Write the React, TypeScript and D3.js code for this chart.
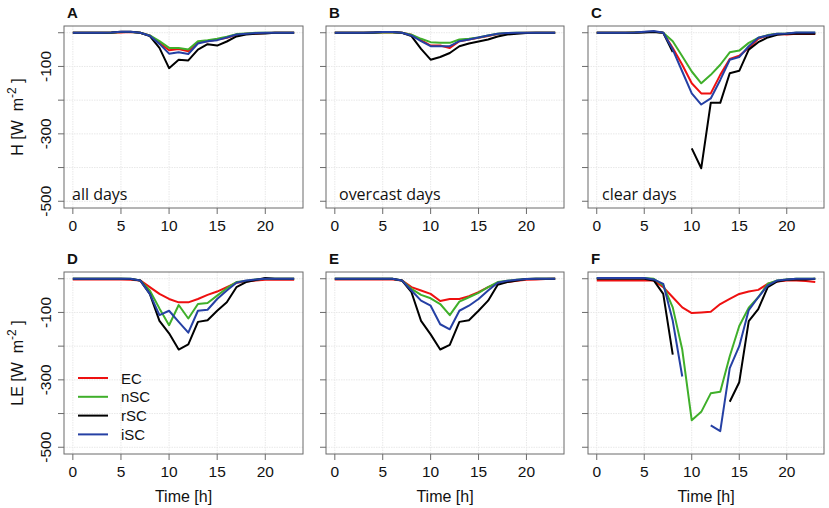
import React from 'react';
import * as d3 from 'd3';

// hour of day (x)
const hours = [0, 1, 2, 3, 4, 5, 6, 7, 8, 9, 10, 11, 12, 13, 14, 15, 16, 17, 18, 19, 20, 21, 22, 23];

const seriesNames = ['EC', 'nSC', 'rSC', 'iSC'];
const seriesColors = ['#ee1010', '#3faf2a', '#000000', '#2540a4'];

const xTicks = [0, 5, 10, 15, 20];
const yTicks = [0, -100, -200, -300, -400, -500];
const yTickLabels = ['-100', '-300', '-500'];

const N = NaN; // gaps in the record

// H, sensible heat flux
const A_EC = [0, 0, 0, 0, 0, 1, 2, 0, -8, -30, -52, -48, -55, -28, -25, -20, -15, -6, -3, -2, -1, 0, 0, 0];
const A_nSC = [0, 0, 0, 0, 0, 2, 2, 0, -8, -25, -45, -45, -50, -25, -22, -18, -12, -4, -2, 0, 0, 0, 0, 0];
const A_rSC = [0, 0, 0, 0, 1, 3, 3, 0, -10, -45, -105, -80, -82, -50, -34, -38, -26, -11, -5, -3, -2, 0, 0, 0];
const A_iSC = [0, 0, 0, 0, 1, 3, 3, 0, -9, -33, -62, -58, -63, -32, -25, -22, -14, -5, -3, -1, 0, 0, 0, 0];

const B_EC = [0, 0, 0, 0, 0, 1, 1, 0, -6, -22, -38, -38, -45, -25, -20, -15, -10, -4, -2, -1, 0, 0, 0, 0];
const B_nSC = [0, 0, 0, 0, 0, 1, 1, 0, -6, -18, -28, -30, -30, -20, -18, -14, -8, -3, -1, 0, 0, 0, 0, 0];
const B_rSC = [0, 0, 0, 0, 1, 2, 2, 0, -10, -48, -80, -72, -60, -40, -32, -26, -20, -11, -5, -3, -1, 0, 0, 0];
const B_iSC = [0, 0, 0, 0, 1, 2, 2, 0, -8, -25, -40, -40, -40, -25, -20, -14, -8, -3, -1, 0, 0, 0, 0, 0];

const C_EC = [0, 0, 0, 0, 1, 2, 3, 0, -45, -95, -150, -180, -180, -125, -78, -68, -45, -18, -8, -4, -5, -3, -4, -4];
const C_nSC = [0, 0, 0, 0, 1, 2, 3, 0, -25, -70, -115, -150, -125, -95, -58, -53, -30, -15, -7, -3, -2, 0, 0, 0];
const C_rSC = [0, 0, 0, 0, 0, 1, 2, 0, -57, N, -343, -402, -208, -208, -120, -113, -50, -28, -14, -6, -3, -2, -3, -3];
const C_iSC = [0, 0, 0, 0, 1, 3, 5, 0, -50, -115, -180, -213, -195, -140, -80, -72, -40, -15, -8, -3, -2, 1, 1, 1];

// LE, latent heat flux
const D_EC = [-2, -2, -2, -2, -2, -2, -3, -5, -25, -45, -60, -70, -70, -60, -48, -38, -25, -12, -8, -5, -3, -3, -3, -3];
const D_nSC = [0, 0, 0, 0, 0, 0, 0, -5, -35, -88, -138, -78, -118, -75, -72, -50, -28, -10, -7, -2, 0, 0, 0, 0];
const D_rSC = [0, 0, 0, 0, 0, 0, -1, -5, -45, -125, -162, -210, -195, -128, -123, -95, -70, -25, -10, -4, 2, 0, 0, 0];
const D_iSC = [0, 0, 0, 0, 0, 0, 0, -5, -45, -108, -95, -128, -160, -95, -92, -60, -35, -12, -5, -2, 0, 0, 0, 0];

const E_EC = [-2, -2, -2, -2, -2, -2, -2, -5, -25, -35, -45, -66, -60, -60, -52, -40, -25, -13, -10, -6, -3, -2, -1, 0];
const E_nSC = [0, 0, 0, 0, 0, 0, 0, -5, -30, -48, -58, -75, -108, -68, -55, -42, -25, -10, -6, -3, -1, 0, 0, 0];
const E_rSC = [0, 0, 0, 0, 0, 0, 0, -5, -40, -125, -165, -210, -196, -128, -123, -95, -65, -18, -10, -5, -1, 0, 0, 0];
const E_iSC = [0, 0, 0, 0, 0, 0, 0, -5, -35, -65, -80, -135, -150, -95, -80, -60, -35, -12, -6, -3, -1, 0, 0, 0];

const F_EC = [-5, -5, -5, -5, -5, -5, -5, -25, -55, -85, -102, -100, -98, -75, -60, -45, -38, -33, -15, -8, -5, -5, -7, -10];
const F_nSC = [2, 2, 2, 2, 2, 2, 0, -20, -85, -210, -420, -395, -340, -335, -230, -140, -86, -55, -15, -5, -2, 0, 0, 0];
const F_rSC = [0, 0, 0, 0, 0, 0, -5, -45, -225, N, N, N, N, N, -365, -307, -126, -90, -25, -8, -3, -2, -2, 0];
const F_iSC = [2, 2, 2, 2, 2, 2, -2, -15, -125, -290, N, N, -435, -452, -265, -200, -93, -55, -20, -5, -2, 0, 0, 0];

const panelLetters = ['A', 'B', 'C', 'D', 'E', 'F'];
const panelNotes = ['all days', 'overcast days', 'clear days', '', '', ''];
const panelSeries = [
  [A_EC, A_nSC, A_rSC, A_iSC],
  [B_EC, B_nSC, B_rSC, B_iSC],
  [C_EC, C_nSC, C_rSC, C_iSC],
  [D_EC, D_nSC, D_rSC, D_iSC],
  [E_EC, E_nSC, E_rSC, E_iSC],
  [F_EC, F_nSC, F_rSC, F_iSC],
];

const W = 829;
const H = 508;
const colLeft = [64, 326, 588];
const colRight = [303, 564, 824];
const rowTop = [26, 272];
const rowBottom = [208, 454];
const noteX = [72, 339, 602];

const axisFont = '"Liberation Sans", Arial, sans-serif';
const boxColor = '#6b6b6b';

interface PanelProps {
  idx: number;
}

const Panel: React.FC<PanelProps> = ({ idx }) => {
  const col = idx % 3;
  const row = Math.floor(idx / 3);
  const left = colLeft[col];
  const right = colRight[col];
  const top = rowTop[row];
  const bottom = rowBottom[row];

  const x = d3.scaleLinear().domain([-0.92, 23.92]).range([left, right]);
  const y = d3.scaleLinear().domain([-520, 20]).range([bottom, top]);

  const line = d3.line<number>()
    .defined(d => !Number.isNaN(d))
    .x((_, i) => x(hours[i]))
    .y(d => y(d));

  return (
    <g>
      {/* grid */}
      {xTicks.map(t => (
        <line key={'gx' + t} x1={x(t)} x2={x(t)} y1={top} y2={bottom} stroke="#e8e8e8" strokeWidth={1} strokeDasharray="1.5,1" />
      ))}
      {yTicks.map(t => (
        <line key={'gy' + t} x1={left} x2={right} y1={y(t)} y2={y(t)} stroke="#e8e8e8" strokeWidth={1} strokeDasharray="1.5,1" />
      ))}

      {panelSeries[idx].map((s, k) => (
        <path key={seriesNames[k]} d={line(s) ?? ''} fill="none" stroke={seriesColors[k]} strokeWidth={2} strokeLinejoin="round" />
      ))}

      <rect x={left} y={top} width={right - left} height={bottom - top} fill="none" stroke={boxColor} strokeWidth={1} />

      {/* x axis */}
      {xTicks.map(t => (
        <g key={'xt' + t}>
          <line x1={x(t)} x2={x(t)} y1={bottom} y2={bottom + 6} stroke={boxColor} />
          <text x={x(t)} y={bottom + 23} textAnchor="middle" fontSize={15.5} fontFamily={axisFont} fill="#111">{t}</text>
        </g>
      ))}
      {/* y axis */}
      {yTicks.map(t => (
        <line key={'yt' + t} x1={left - 6} x2={left} y1={y(t)} y2={y(t)} stroke={boxColor} />
      ))}
      {col === 0 && yTicks.filter(t => yTickLabels.includes(String(t))).map(t => (
        <text key={'yl' + t} transform={`translate(${left - 13},${y(t)}) rotate(-90)`} textAnchor="middle" fontSize={15.5} fontFamily={axisFont} fill="#111">{String(t)}</text>
      ))}

      <text x={left + 3} y={top - 8} fontSize={15} fontWeight="bold" fontFamily={axisFont} fill="#111">{panelLetters[idx]}</text>

      {panelNotes[idx] && (
        <text x={noteX[col]} y={bottom - 8} fontSize={16} fontFamily='"Open Sans", sans-serif' fill="#111">{panelNotes[idx]}</text>
      )}

      {row === 1 && (
        <text x={(left + right) / 2} y={502} textAnchor="middle" fontSize={16} fontFamily={axisFont} fill="#111">Time [h]</text>
      )}
    </g>
  );
};

const YLabel: React.FC<{ name: string; cy: number }> = ({ name, cy }) => (
  <text transform={`translate(23,${cy}) rotate(-90)`} textAnchor="middle" fontSize={16} fontFamily={axisFont} fill="#111" xmlSpace="preserve">
    {name} [W  m
    <tspan fontSize={12} dy={-7}>-2</tspan>
    <tspan dy={7}> ]</tspan>
  </text>
);

const Legend: React.FC = () => {
  const x0 = 78;
  const y0 = 378;
  const step = 18.8;
  return (
    <g>
      {seriesNames.map((n, i) => (
        <g key={n}>
          <line x1={x0} x2={x0 + 30} y1={y0 + i * step} y2={y0 + i * step} stroke={seriesColors[i]} strokeWidth={2} />
          <text x={x0 + 43} y={y0 + i * step + 5.5} fontSize={15} fontFamily={axisFont} fill="#111">{n}</text>
        </g>
      ))}
    </g>
  );
};

export default function App() {
  return (
    <svg width={W} height={H} style={{ position: 'absolute', left: 0, top: 0, background: '#fff' }}>
      <rect width={W} height={H} fill="#fff" />
      {panelLetters.map((_, i) => <Panel key={i} idx={i} />)}
      <YLabel name="H" cy={(rowTop[0] + rowBottom[0]) / 2} />
      <YLabel name="LE" cy={(rowTop[1] + rowBottom[1]) / 2} />
      <Legend />
    </svg>
  );
}
